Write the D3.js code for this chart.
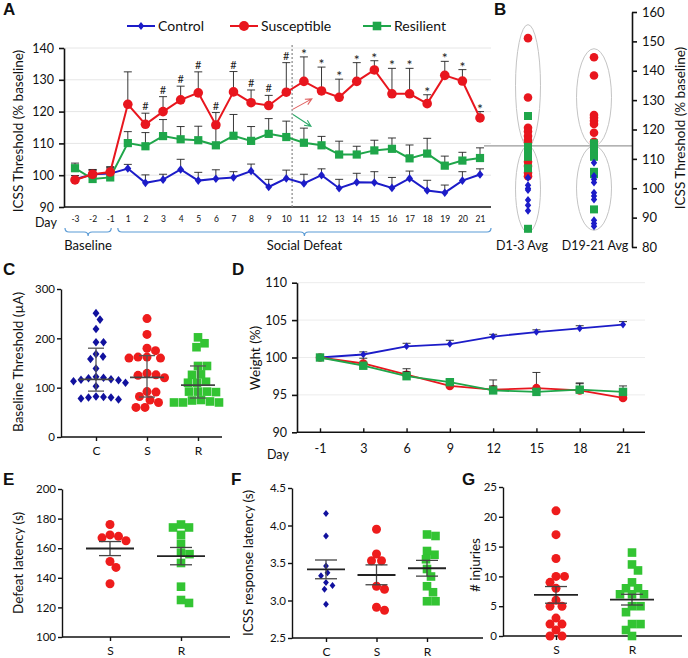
<!DOCTYPE html>
<html><head><meta charset="utf-8">
<script src="https://cdn.jsdelivr.net/npm/d3@7"></script>
<style>body{margin:0;background:#fff} svg{display:block}</style>
</head><body><script>
// ---------------- DATA ----------------
// Panel A
const daysA = ["-3","-2","-1","1","2","3","4","5","6","7","8","9","10","11","12","13","14","15","16","17","18","19","20","21"];
const controlA    = [98.7,100.3,100.5,102.1,97.6,98.6,101.8,98.3,98.9,99.3,101.3,96.3,99.0,97.4,100.0,95.9,97.8,97.7,96.0,99.0,95.2,94.5,98.3,100.2];
const controlErrA = [1.2,1.3,1.5,1.3,2.5,1.7,3.2,2.6,2.8,1.8,2.2,2.4,2.6,2.9,2.0,2.8,2.8,3.4,3.3,2.3,3.2,2.4,2.8,1.8];
const suscA       = [98.5,100.3,101.0,122.3,116.0,120.0,123.7,125.9,115.8,126.2,122.8,121.9,126.1,129.5,126.5,124.5,129.5,133.1,125.6,125.6,122.5,131.4,129.6,118.0];
const suscErrA    = [0.8,1.5,1.7,10.2,3.5,4.7,4.3,6.6,3.9,6.4,4.0,3.2,9.3,7.7,7.5,5.7,5.9,2.9,8.0,8.0,2.8,4.4,3.6,2.0];
const resA        = [102.2,98.8,99.3,110.1,109.1,112.3,111.3,111.0,109.4,112.4,110.8,113.0,112.0,110.2,109.4,106.5,106.5,107.8,108.3,105.3,106.8,103.0,104.6,105.4];
const resErrA     = [1.6,2.8,3.1,3.6,4.3,5.2,4.0,4.4,5.5,6.7,4.5,4.8,5.0,4.6,2.8,4.2,2.6,3.2,3.4,4.2,4.8,3.0,2.6,3.2];
const sigA        = ["","","","","#","#","#","#","#","#","#","#","#","*","*","*","*","*","*","*","*","*","*","*"];
const yTicksA = [90,100,110,120,130,140];
const seriesNames = ["Control","Susceptible","Resilient"];
// arrows: [day, fraction of step, value]
const arrowRedA   = {from:["10",0.36,120.7], to:["11",0.45,124.0]};
const arrowGreenA = {from:["10",0.38,119.1], to:["11",0.40,115.4]};

// Panel B
const groupsB = ["D1-3 Avg","D19-21 Avg"];
const suscB1 = [151.1,130.9,120.6,119.3,117.8,116.4,115.5,109.0,107.6,105.3,104.1];
const suscB2 = [144.6,138.4,124.9,124.0,123.0,121.9,118.9,115.8];
const resB1  = [124.6,114.1,113.0,111.9,110.7,106.8,86.2];
const resB2  = [115.3,114.1,113.0,111.9,110.7,105.6,104.8,92.8];
const ctrlB1 = [103.6,101.0,99.9,99.4,96.0,94.2,92.3];
const ctrlB2 = [108.7,104.2,103.1,102.0,98.5,97.4,96.2,89.1,88.0,87.1];
const cutoffB = 114.4;
const ellTopB = [155.7,147.5];
const ellBotB = [85.0,85.7];
const yTicksB = [80,90,100,110,120,130,140,150,160];

// Panel C
const groupsC = ["C","S","R"];
const ctrlC = [251,238,219,192,192,168,163,158,139,122,120,119,117,116,115,113,110,103,82,81,80,78,76,80];
const suscC = [240,208,180,175,162,160,160,129,126,125,120,92,82,75,70,60,60,162,91];
const resC  = [202,190,182,144,144,127,126,112,110,110,92,92,92,91,75,70,70,70,72,74];
const medC = [117,121,105];
const q1C  = [93,81,79];
const q3C  = [180,165,144];
const yTicksC = [0,100,200,300];

// Panel D
const daysD = ["-1","3","6","9","12","15","18","21"];
const ctrlD    = [100,100.4,101.5,101.8,102.8,103.4,103.9,104.4];
const ctrlErrD = [0,0.35,0.4,0.5,0.3,0.3,0.35,0.4];
const suscD    = [100,99.2,97.7,96.2,95.7,95.9,95.6,94.6];
const suscErrD = [0,0.7,0.8,0.3,1.3,2.1,1.0,0.3];
const resD     = [100,98.9,97.5,96.7,95.6,95.4,95.7,95.4];
const resErrD  = [0,0.3,0.6,0.4,0.6,0.3,0.8,0.8];
const yTicksD = [90,95,100,105,110];

// Panel E
const groupsE = ["S","R"];
const suscE = [176,168,165,167,169,151,147,136];
const resE  = [174,176,174,169,163,157,156,150,134,123,125];
const meanE = [159.8,154.6], semLoE = [155.0,148.8], semUpE = [164.5,160.5];
const yTicksE = [100,120,140,160,180,200];

// Panel F
const groupsF = ["C","S","R"];
const ctrlF = [4.16,3.86,3.46,3.37,3.33,3.24,3.20,3.15,2.95];
const suscF = [3.95,3.62,3.53,3.53,3.19,3.15,2.87,2.91];
const resF  = [3.88,3.86,3.66,3.61,3.55,3.42,3.32,3.19,3.11,2.99,2.99];
const meanF = [3.415,3.34,3.43], semLoF = [3.29,3.21,3.325], semUpF = [3.54,3.475,3.535];
const yTicksF = [2.5,3.0,3.5,4.0,4.5];

// Panel G
const groupsG = ["S","R"];
const suscG = [21,17,13,10,10,9,8,6,5,5,3,2,2,1,0,0];
const resG  = [14,12,11,9,8,8,7,7,7,5,5,4,2,2,1,0];
const meanG = [6.9,6.1], semLoG = [5.5,5.2], semUpG = [8.3,7.0];
const yTicksG = [0,5,10,15,20,25];

// ---------------- DRAWING ----------------
const FONT = "Lato, 'Open Sans', sans-serif";
const W = 688, H = 658;
const COL = {blue:"#1c1cc8", red:"#e8161e", green:"#1fa64a"};
const COL2 = {blue:"#11119e", red:"#ee1c1c", green:"#33c433"};

const svg = d3.select("body").append("svg").attr("width",W).attr("height",H)
  .attr("font-family",FONT);
svg.append("rect").attr("width",W).attr("height",H).attr("fill","#fff");

function sym(shape, r){
  if (shape==="circle") return `M${r},0A${r},${r},0,1,1,${-r},0A${r},${r},0,1,1,${r},0Z`;
  if (shape==="square") return `M${-r},${-r}H${r}V${r}H${-r}Z`;
  return `M0,${-r}L${r*0.8},0L0,${r}L${-r*0.8},0Z`;
}
function styleAxis(sel, fs, sw){
  sel.selectAll("text").attr("font-size",fs).attr("font-family",FONT).attr("fill","#111");
  sel.selectAll("path.domain").attr("stroke","#111").attr("stroke-width",sw);
  sel.selectAll(".tick line").attr("stroke","#111").attr("stroke-width",sw);
}
function panelLetter(t,x,y){
  svg.append("text").attr("x",x).attr("y",y).text(t).attr("font-family","'Liberation Sans',Arial,sans-serif")
    .attr("font-weight","bold").attr("font-size",17).attr("fill","#111");
}
function vTitle(t,x,y,fs){
  svg.append("text").attr("transform",`translate(${x},${y}) rotate(-90)`).attr("text-anchor","middle")
    .attr("font-size",fs).attr("fill","#111").text(t);
}
function swarm(vals, yScale, diam){
  const pts = vals.map(v=>({v, y:yScale(v), dx:0}));
  const order = pts.slice().sort((a,b)=>d3.descending(a.v,b.v));
  const placed = [];
  for (const p of order){
    for (let k=0;k<400;k++){
      const off = k===0?0:((k%2)?1:-1)*Math.ceil(k/2)*0.5;
      let ok = true;
      for (const q of placed){
        const dx = off-q.dx, dy = p.y-q.y;
        if (dx*dx+dy*dy < diam*diam*0.85){ ok=false; break; }
      }
      if (ok){ p.dx = off; break; }
    }
    placed.push(p);
  }
  return pts;
}

// ===== Panel A =====
panelLetter("A",3,15);
const gA = svg.append("g");
const axLA = 64, axRA = 491;
const xA = d3.scalePoint().domain(daysA).range([75,480]);
const yA = d3.scaleLinear().domain([90,140]).range([207,48]);
gA.append("g").selectAll("line").data(yTicksA.filter(d=>d>90)).join("line")
  .attr("x1",axLA).attr("x2",axRA).attr("y1",d=>yA(d)).attr("y2",d=>yA(d)).attr("stroke","#e6e6e6");
gA.append("g").attr("transform",`translate(${axLA},0)`)
  .call(d3.axisLeft(yA).tickValues(yTicksA).tickSize(5).tickSizeOuter(0).tickPadding(5))
  .call(styleAxis,12.5,1.6);
gA.append("line").attr("x1",axLA).attr("x2",axRA).attr("y1",yA(90)).attr("y2",yA(90)).attr("stroke","#111").attr("stroke-width",1.6);
gA.append("g").attr("transform",`translate(0,${yA(90)})`)
  .call(d3.axisBottom(xA).tickSize(0).tickPadding(9))
  .call(g=>g.select(".domain").remove()).call(styleAxis,8.5,1);
gA.append("text").attr("x",35).attr("y",227).attr("font-size",12.5).attr("fill","#111").text("Day");
vTitle("ICSS Threshold (% baseline)",23,131,13.5);
// dashed divider
const xDiv = xA("10")+0.33*xA.step();
gA.append("line").attr("x1",xDiv).attr("x2",xDiv).attr("y1",yA(140)-3).attr("y2",yA(90))
  .attr("stroke","#888").attr("stroke-width",1.2).attr("stroke-dasharray","2,2");
// arrows
function arrow(a,color){
  const x1 = xA(a.from[0])+a.from[1]*xA.step(), y1 = yA(a.from[2]);
  const x2 = xA(a.to[0])+a.to[1]*xA.step(), y2 = yA(a.to[2]);
  const ang = Math.atan2(y2-y1,x2-x1), L=7;
  const p = `M${x1},${y1}L${x2},${y2}M${x2-L*Math.cos(ang-0.45)},${y2-L*Math.sin(ang-0.45)}L${x2},${y2}L${x2-L*Math.cos(ang+0.45)},${y2-L*Math.sin(ang+0.45)}`;
  gA.append("path").attr("d",p).attr("fill","none").attr("stroke",color).attr("stroke-width",1.1);
}
arrow(arrowRedA,"#e06060"); arrow(arrowGreenA,"#2eaa6a");
// series
const seriesA = [
  {vals:controlA, err:controlErrA, color:COL.blue, shape:"diamond", r:4.3},
  {vals:resA, err:resErrA, color:COL.green, shape:"square", r:4.1},
  {vals:suscA, err:suscErrA, color:COL.red, shape:"circle", r:4.8}
];
seriesA.forEach(s=>{
  const g = gA.append("g");
  daysA.forEach((d,i)=>{
    const x = xA(d), y0 = yA(s.vals[i]), y1 = yA(s.vals[i]+s.err[i]);
    g.append("line").attr("x1",x).attr("x2",x).attr("y1",y0).attr("y2",y1).attr("stroke","#222").attr("stroke-width",0.9);
    g.append("line").attr("x1",x-4).attr("x2",x+4).attr("y1",y1).attr("y2",y1).attr("stroke","#222").attr("stroke-width",0.9);
  });
  g.append("path").datum(s.vals).attr("d",d3.line().x((v,i)=>xA(daysA[i])).y(v=>yA(v)))
    .attr("fill","none").attr("stroke",s.color).attr("stroke-width",2);
  g.selectAll("path.m").data(s.vals).join("path").attr("class","m")
    .attr("transform",(v,i)=>`translate(${xA(daysA[i])},${yA(v)})`).attr("d",sym(s.shape,s.r)).attr("fill",s.color);
});
gA.append("g").selectAll("text").data(daysA).join("text")
  .attr("x",d=>xA(d)).attr("y",(d,i)=>yA(suscA[i]+suscErrA[i])-(sigA[i]==="*"?-2:3))
  .attr("text-anchor","middle").attr("font-size",(d,i)=>sigA[i]==="*"?14:11).attr("fill","#222").text((d,i)=>sigA[i]);
// brackets
function bracket(x0,x1,y){const m=(x0+x1)/2,h=4;
  return `M${x0},${y-h}Q${x0},${y} ${x0+h},${y}H${m-h}Q${m},${y} ${m},${y+h}Q${m},${y} ${m+h},${y}H${x1-h}Q${x1},${y} ${x1},${y-h}`;}
const bx0 = xA("-3")-10, bx1 = xA("-1")+1, sx0 = xA("1")-10, sx1 = axRA;
gA.append("path").attr("d",bracket(bx0,bx1,232)).attr("fill","none").attr("stroke","#5b9bd5").attr("stroke-width",1.2);
gA.append("path").attr("d",bracket(sx0,sx1,232)).attr("fill","none").attr("stroke","#5b9bd5").attr("stroke-width",1.2);
gA.append("text").attr("x",(bx0+bx1)/2).attr("y",250).attr("text-anchor","middle").attr("font-size",13).attr("fill","#111").text("Baseline");
gA.append("text").attr("x",(sx0+sx1)/2).attr("y",250).attr("text-anchor","middle").attr("font-size",13).attr("fill","#111").text("Social Defeat");
// legend
const legX = [127,230,363];
const legSpec = [{c:COL.blue,s:"diamond",r:4},{c:COL.red,s:"circle",r:5},{c:COL.green,s:"square",r:4.3}];
seriesNames.forEach((n,i)=>{
  const g = gA.append("g").attr("transform",`translate(${legX[i]},26)`);
  g.append("line").attr("x1",0).attr("x2",28).attr("stroke",legSpec[i].c).attr("stroke-width",2);
  g.append("path").attr("transform","translate(14,0)").attr("d",sym(legSpec[i].s,legSpec[i].r)).attr("fill",legSpec[i].c);
  g.append("text").attr("x",31).attr("y",5).attr("font-size",14).attr("fill","#111").text(n);
});

// ===== Panel B =====
panelLetter("B",494,15);
const gB = svg.append("g");
const xB = d3.scalePoint().domain(groupsB).range([528,594]);
const yB = d3.scaleLinear().domain([80,160]).range([247,12]);
gB.append("line").attr("x1",484).attr("x2",632).attr("y1",yB(cutoffB)).attr("y2",yB(cutoffB)).attr("stroke","#9a9a9a").attr("stroke-width",1.2);
const ellRx = [12.5,17.5];
groupsB.forEach((g,i)=>{
  [[ellTopB[i],cutoffB],[cutoffB,ellBotB[i]]].forEach(([a,b])=>{
    gB.append("ellipse").attr("cx",xB(g)).attr("cy",(yB(a)+yB(b))/2).attr("rx",ellRx[i]).attr("ry",Math.abs(yB(b)-yB(a))/2)
      .attr("fill","none").attr("stroke","#c4c4c4").attr("stroke-width",1);
  });
});
const bSets = [
  {v:[suscB1,suscB2], c:COL.red, s:"circle", r:4.3},
  {v:[resB1,resB2], c:COL.green, s:"square", r:4.0},
  {v:[ctrlB1,ctrlB2], c:COL.blue, s:"diamond", r:4.0}
];
bSets.forEach(st=>{
  groupsB.forEach((g,i)=>{
    gB.append("g").selectAll("path").data(st.v[i]).join("path")
      .attr("transform",v=>`translate(${xB(g)},${yB(v)})`).attr("d",sym(st.s,st.r)).attr("fill",st.c);
  });
});
gB.append("g").attr("transform","translate(632,0)")
  .call(d3.axisRight(yB).tickValues(yTicksB).tickSize(5).tickSizeOuter(0).tickPadding(5))
  .call(styleAxis,13,1.6);
const labDxB = [-6,1];
gB.append("g").selectAll("text").data(groupsB).join("text")
  .attr("x",(d,i)=>xB(d)+labDxB[i]).attr("y",250).attr("text-anchor","middle").attr("font-size",12.5).attr("fill","#111").text(d=>d);
vTitle("ICSS Threshold (% baseline)",685,128,13.5);

// ===== scatter helper for C, E, F, G =====
function scatterPanel(opt){
  const g = svg.append("g");
  const x = d3.scalePoint().domain(opt.groups).range(opt.xr);
  const y = d3.scaleLinear().domain(opt.yd).range(opt.yr);
  g.append("g").attr("transform",`translate(${opt.axX},0)`)
    .call(d3.axisLeft(y).tickValues(opt.ticks).tickSize(4).tickSizeOuter(0).tickPadding(2).tickFormat(opt.fmt))
    .call(styleAxis,11.5,1.4);
  g.append("line").attr("x1",opt.axX).attr("x2",opt.axEnd).attr("y1",opt.yr[0]).attr("y2",opt.yr[0]).attr("stroke","#111").attr("stroke-width",1.4);
  g.append("g").attr("transform",`translate(0,${opt.yr[0]})`)
    .call(d3.axisBottom(x).tickSize(4).tickPadding(5))
    .call(s=>s.select(".domain").remove()).call(styleAxis,12,1.4);
  opt.sets.forEach((st,i)=>{
    const pts = swarm(st.v, y, st.d);
    g.append("g").selectAll("path").data(pts).join("path")
      .attr("transform",p=>`translate(${x(opt.groups[i])+p.dx},${p.y})`).attr("d",sym(st.s,st.r)).attr("fill",st.c);
  });
  opt.groups.forEach((gr,i)=>{
    const cx = x(gr);
    g.append("line").attr("x1",cx).attr("x2",cx).attr("y1",y(opt.lo[i])).attr("y2",y(opt.up[i])).attr("stroke",opt.errColor).attr("stroke-width",1.3);
    [opt.lo[i],opt.up[i]].forEach(v=>g.append("line").attr("x1",cx-opt.cw).attr("x2",cx+opt.cw).attr("y1",y(v)).attr("y2",y(v)).attr("stroke",opt.errColor).attr("stroke-width",1.3));
    g.append("line").attr("x1",cx-opt.hw).attr("x2",cx+opt.hw).attr("y1",y(opt.mid[i])).attr("y2",y(opt.mid[i])).attr("stroke",opt.midColor).attr("stroke-width",1.8);
  });
}

// ===== Panel C =====
panelLetter("C",3,275);
scatterPanel({groups:groupsC, xr:[96,198], yd:[0,300], yr:[437,289], ticks:yTicksC, fmt:d3.format("d"),
  axX:61, axEnd:222,
  sets:[{v:ctrlC,c:COL2.blue,s:"diamond",r:4.3,d:8},{v:suscC,c:COL2.red,s:"circle",r:4.5,d:9.5},{v:resC,c:COL2.green,s:"square",r:4.3,d:9.5}],
  mid:medC, lo:q1C, up:q3C, hw:17, cw:8, errColor:"#555", midColor:"#444"});
vTitle("Baseline Threshold (µA)",23,362,13.5);

// ===== Panel D =====
panelLetter("D",232,275);
const gD = svg.append("g");
const axLD = 297, axRD = 645;
const xD = d3.scalePoint().domain(daysD).range([320,623]);
const yD = d3.scaleLinear().domain([90,110]).range([432.3,282.7]);
gD.append("g").selectAll("line").data(yTicksD.filter(d=>d>90)).join("line")
  .attr("x1",axLD).attr("x2",axRD).attr("y1",d=>yD(d)).attr("y2",d=>yD(d)).attr("stroke","#ececec");
gD.append("g").attr("transform",`translate(${axLD},0)`)
  .call(d3.axisLeft(yD).tickValues(yTicksD).tickSize(5).tickSizeOuter(0).tickPadding(5))
  .call(styleAxis,12.5,1.6);
gD.append("line").attr("x1",axLD).attr("x2",axRD).attr("y1",yD(90)).attr("y2",yD(90)).attr("stroke","#111").attr("stroke-width",1.6);
gD.append("g").attr("transform",`translate(0,${yD(90)})`)
  .call(d3.axisBottom(xD).tickSize(-4).tickPadding(12))
  .call(s=>s.select(".domain").remove()).call(styleAxis,12.5,1.4);
gD.append("text").attr("x",267).attr("y",459).attr("font-size",12.5).attr("fill","#111").text("Day");
vTitle("Weight (%)",260,358,13.5);
const seriesD = [
  {vals:ctrlD, err:ctrlErrD, color:COL.blue, shape:"diamond", r:3.8},
  {vals:suscD, err:suscErrD, color:COL.red, shape:"circle", r:4.3},
  {vals:resD, err:resErrD, color:COL.green, shape:"square", r:4.2}
];
seriesD.forEach(s=>{
  const g = gD.append("g");
  daysD.forEach((d,i)=>{
    if (s.err[i]<=0) return;
    const x = xD(d), y0 = yD(s.vals[i]), y1 = yD(s.vals[i]+s.err[i]);
    g.append("line").attr("x1",x).attr("x2",x).attr("y1",y0).attr("y2",y1).attr("stroke","#222").attr("stroke-width",0.9);
    g.append("line").attr("x1",x-4).attr("x2",x+4).attr("y1",y1).attr("y2",y1).attr("stroke","#222").attr("stroke-width",0.9);
  });
  g.append("path").datum(s.vals).attr("d",d3.line().x((v,i)=>xD(daysD[i])).y(v=>yD(v)))
    .attr("fill","none").attr("stroke",s.color).attr("stroke-width",1.8);
  g.selectAll("path.m").data(s.vals).join("path").attr("class","m")
    .attr("transform",(v,i)=>`translate(${xD(daysD[i])},${yD(v)})`).attr("d",sym(s.shape,s.r)).attr("fill",s.color);
});

// ===== Panel E =====
panelLetter("E",3,485);
scatterPanel({groups:groupsE, xr:[110,181], yd:[100,200], yr:[637,489], ticks:yTicksE, fmt:d3.format("d"),
  axX:62, axEnd:230,
  sets:[{v:suscE,c:COL2.red,s:"circle",r:4.5,d:9},{v:resE,c:COL2.green,s:"square",r:4.3,d:9}],
  mid:meanE, lo:semLoE, up:semUpE, hw:24, cw:11, errColor:"#444", midColor:"#222"});
vTitle("Defeat latency (s)",23,563,13.5);

// ===== Panel F =====
panelLetter("F",231,485);
scatterPanel({groups:groupsF, xr:[326,427], yd:[2.5,4.5], yr:[638,488], ticks:yTicksF, fmt:d3.format(".1f"),
  axX:292, axEnd:483,
  sets:[{v:ctrlF,c:COL2.blue,s:"diamond",r:3.6,d:7.5},{v:suscF,c:COL2.red,s:"circle",r:4.5,d:9},{v:resF,c:COL2.green,s:"square",r:4.3,d:9}],
  mid:meanF, lo:semLoF, up:semUpF, hw:19, cw:11, errColor:"#444", midColor:"#222"});
vTitle("ICSS response latency (s)",253,563,13.5);

// ===== Panel G =====
panelLetter("G",462,485);
scatterPanel({groups:groupsG, xr:[556,632], yd:[0,25], yr:[636,487], ticks:yTicksG, fmt:d3.format("d"),
  axX:503, axEnd:682,
  sets:[{v:suscG,c:COL2.red,s:"circle",r:4.5,d:9},{v:resG,c:COL2.green,s:"square",r:4.3,d:9}],
  mid:meanG, lo:semLoG, up:semUpG, hw:22, cw:11, errColor:"#444", midColor:"#222"});
vTitle("# injuries",480,565,13.5);
</script></body></html>
